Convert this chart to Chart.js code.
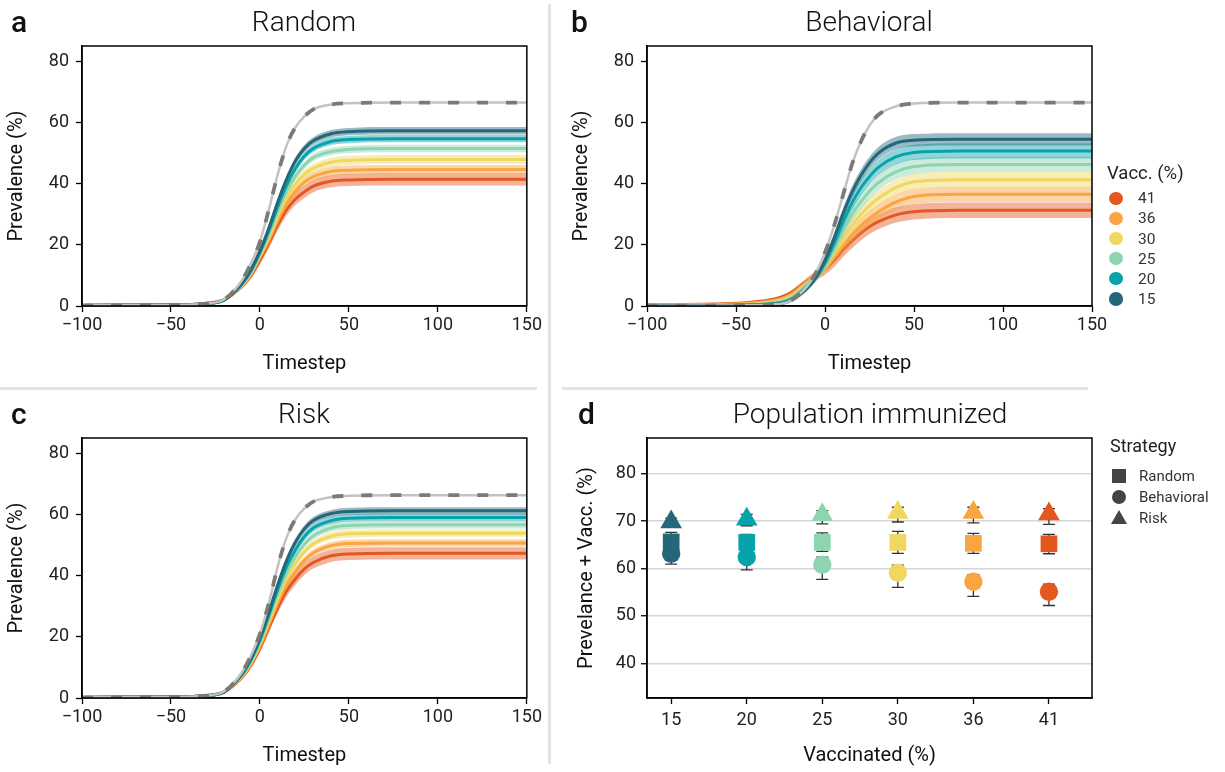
<!DOCTYPE html>
<html>
<head>
<meta charset="utf-8">
<script src="https://cdn.jsdelivr.net/npm/chart.js@4.4.0/dist/chart.umd.min.js"></script>
<style>
  body { margin: 0; background: #fff; font-family: Roboto, "Noto Sans", sans-serif; }
  #wrap { position: relative; width: 1225px; height: 772px; overflow: hidden; }
  canvas { position: absolute; }
  .txt { position: absolute; white-space: nowrap; color: #111; }
  .letter { font-size: 30px; line-height: 30px; font-weight: 500; }
  .title { font-size: 28px; line-height: 28px; font-weight: 300; transform: translateX(-50%); }
  .sep { position: absolute; background: #e3e3e3; }
  .leg { position: absolute; color: #333; white-space: nowrap; }
  .dot { position: absolute; border-radius: 50%; }
</style>
</head>
<body>
<div id="wrap">
  <div class="sep" style="left:548px; top:4px; width:3px; height:760px;"></div>
  <div class="sep" style="left:0; top:387px; width:537px; height:3px;"></div>
  <div class="sep" style="left:562px; top:387px; width:526px; height:3px;"></div>

  <canvas id="chartA" width="545" height="380" style="left:0; top:0;"></canvas>
  <canvas id="chartB" width="660" height="380" style="left:565px; top:0;"></canvas>
  <canvas id="chartC" width="545" height="380" style="left:0; top:392px;"></canvas>
  <canvas id="chartD" width="660" height="380" style="left:565px; top:392px;"></canvas>

  <div class="txt letter" style="left:11px; top:7px;">a</div>
  <div class="txt title" style="left:304px; top:8px;">Random</div>
  <div class="txt letter" style="left:571px; top:7px;">b</div>
  <div class="txt title" style="left:869px; top:8px;">Behavioral</div>
  <div class="txt letter" style="left:11px; top:399px;">c</div>
  <div class="txt title" style="left:304px; top:400px;">Risk</div>
  <div class="txt letter" style="left:578px; top:399px;">d</div>
  <div class="txt title" style="left:870px; top:400px;">Population immunized</div>

  <div id="legendB"></div>
  <div id="legendD"></div>
</div>

<script>
// time axis shared by the three prevalence panels
const timesteps = [-100, -50, -30, -20, -10, -5, 0, 5, 10, 15, 20, 25, 30, 40, 50, 75, 100, 150];
const timeTicks = [-100, -50, 0, 50, 100, 150];
const prevTicks = [0, 20, 40, 60, 80];

// vaccination levels, top to bottom as in the legend
const vaccLevels = ['41', '36', '30', '25', '20', '15'];
const vaccColors = ['#e4571e', '#f9a541', '#efd760', '#8dd5b0', '#08a2ab', '#24667a'];

// a - Random
const noVaccRandom = [0.2, 0.3, 0.8, 2.2, 8.5, 14, 21, 31.5, 43, 52.5, 58.5, 62, 64.3, 65.9, 66.3, 66.5, 66.5, 66.5];
const random41 = [0.2, 0.3, 0.9, 2.1, 6.5, 10, 15, 20.5, 26.5, 31.5, 35, 37.3, 39.2, 40.8, 41.2, 41.4, 41.4, 41.4];
const random36 = [0.2, 0.3, 0.9, 2.1, 6.8, 10.5, 16, 21.5, 28, 33.5, 37.5, 40.5, 42.3, 44, 44.4, 44.6, 44.6, 44.6];
const random30 = [0.2, 0.3, 0.8, 2.0, 6.8, 10.7, 16.5, 22.5, 29.5, 35.5, 40, 43, 45, 47, 47.6, 47.9, 47.9, 47.9];
const random25 = [0.2, 0.3, 0.8, 2.0, 7, 11, 17, 23.5, 31, 37.5, 42.5, 46, 48.5, 50.5, 51.2, 51.5, 51.5, 51.5];
const random20 = [0.2, 0.3, 0.8, 2.0, 7.3, 11.5, 17.5, 24.5, 32.5, 39.5, 45, 49, 51.5, 53.8, 54.4, 54.7, 54.7, 54.7];
const random15 = [0.2, 0.3, 0.8, 2.0, 7.5, 12, 18, 25.5, 34, 41.5, 47.5, 51.5, 54, 56.3, 57, 57.3, 57.3, 57.3];

// b - Behavioral
const noVaccBehav = [0.1, 0.2, 0.5, 1.5, 6.5, 11, 17.5, 26, 36, 46, 53.5, 59, 62.5, 65.3, 66.2, 66.5, 66.5, 66.5];
const behav41 = [0.4, 0.9, 2.1, 4.1, 8.2, 10, 12, 14.8, 18.2, 21.2, 23.8, 26, 27.6, 29.8, 30.8, 31.3, 31.3, 31.3];
const behav36 = [0.3, 0.7, 1.7, 3.5, 7.8, 9.9, 12.5, 16, 19.8, 23.2, 26.2, 28.7, 30.8, 34, 35.8, 36.5, 36.5, 36.5];
const behav30 = [0.2, 0.5, 1.3, 2.9, 7.3, 9.8, 13, 17.3, 22, 26.3, 29.8, 32.8, 35.2, 38.8, 40.6, 41.3, 41.3, 41.3];
const behav25 = [0.2, 0.4, 1.0, 2.4, 6.8, 9.7, 13.5, 18.8, 24.5, 29.8, 34, 37.5, 40.3, 43.9, 45.6, 46.3, 46.3, 46.3];
const behav20 = [0.1, 0.3, 0.7, 1.9, 6.3, 9.6, 14.3, 20.5, 27.3, 33.5, 38.5, 42.3, 45.3, 48.8, 50.2, 50.7, 50.7, 50.7];
const behav15 = [0.1, 0.2, 0.5, 1.5, 5.8, 9.5, 15, 22, 30, 37, 42.5, 46.8, 50, 53.3, 54.2, 54.5, 54.5, 54.5];

// c - Risk
const noVaccRisk = [0.2, 0.3, 0.8, 2.2, 8.5, 14, 21, 31, 43, 52.5, 58.5, 62, 64.2, 65.7, 66.1, 66.3, 66.3, 66.3];
const risk41 = [0.2, 0.3, 0.8, 2.0, 6.8, 10.8, 16.3, 23, 29.5, 35, 39, 42.2, 44.3, 46.5, 47.1, 47.3, 47.3, 47.3];
const risk36 = [0.2, 0.3, 0.8, 2.0, 7, 11.2, 17, 24, 31, 37, 41.5, 45, 47.4, 49.8, 50.5, 50.7, 50.7, 50.7];
const risk30 = [0.2, 0.3, 0.8, 2.0, 7.3, 11.6, 17.7, 25, 32.5, 39, 44, 47.8, 50.4, 52.9, 53.7, 53.9, 53.9, 53.9];
const risk25 = [0.2, 0.3, 0.8, 2.0, 7.5, 12, 18.3, 26, 34, 41, 46.3, 50.3, 53, 55.6, 56.4, 56.6, 56.6, 56.6];
const risk20 = [0.2, 0.3, 0.8, 2.0, 7.8, 12.5, 19, 27, 35.5, 43, 48.5, 52.8, 55.6, 58, 58.8, 59, 59, 59];
const risk15 = [0.2, 0.3, 0.8, 2.0, 8, 13, 19.5, 28, 37, 45, 51, 55.3, 58, 60.3, 61, 61.2, 61.2, 61.2];

// half-width of the shaded bands
const sd12 = [0, 0, 0.1, 0.2, 0.5, 0.7, 0.9, 1.0, 1.1, 1.15, 1.2, 1.2, 1.2, 1.2, 1.2, 1.2, 1.2, 1.2];
const sd15 = [0, 0, 0.1, 0.2, 0.6, 0.9, 1.1, 1.3, 1.4, 1.45, 1.5, 1.5, 1.5, 1.5, 1.5, 1.5, 1.5, 1.5];
const sd20 = [0, 0, 0.1, 0.3, 0.8, 1.1, 1.4, 1.7, 1.8, 1.9, 2, 2, 2, 2, 2, 2, 2, 2];
const sd25 = [0, 0.1, 0.3, 0.5, 1.1, 1.5, 1.8, 2.1, 2.3, 2.4, 2.5, 2.5, 2.5, 2.5, 2.5, 2.5, 2.5, 2.5];

// d - Population immunized
const vaccCats = ['15', '20', '25', '30', '36', '41'];
const immTicks = [40, 50, 60, 70, 80];
const immRandom = [65.6, 65.5, 65.5, 65.5, 65.3, 65.2];
const immRandomLo = [63.6, 63.9, 63.6, 63.2, 63.2, 63.1];
const immRandomHi = [67.6, 67.2, 67.5, 67.8, 67.4, 67.2];
const immBehav = [63.1, 62.4, 60.8, 59.1, 57.2, 55.1];
const immBehavLo = [60.9, 59.7, 57.7, 56.0, 54.1, 52.2];
const immBehavHi = [65.3, 64.9, 62.4, 60.7, 58.7, 56.7];
const immRisk = [69.8, 70.4, 71.3, 71.8, 71.8, 71.5];
const immRiskLo = [69.0, 69.0, 69.4, 69.8, 69.6, 69.3];
const immRiskHi = [70.6, 71.4, 72.2, 72.9, 72.9, 72.6];

const FONT = 'Roboto, "Noto Sans", sans-serif';
Chart.defaults.font.family = FONT;
Chart.defaults.color = '#222';
Chart.defaults.animation = false;

function alpha(hex, a) {
    const n = parseInt(hex.slice(1), 16);
    return `rgba(${n >> 16}, ${(n >> 8) & 255}, ${n & 255}, ${a})`;
}

const minus = v => v < 0 ? '\u2212' + Math.abs(v) : String(v);

// black box around the plot area
const framePlugin = {
    id: 'frame',
    afterDatasetsDraw(chart) {
        const {ctx, chartArea: a} = chart;
        ctx.save();
        ctx.strokeStyle = '#000';
        ctx.lineWidth = 1.5;
        ctx.strokeRect(a.left, a.top, a.right - a.left, a.bottom - a.top);
        ctx.restore();
    }
};

function axisBase(extra) {
    return Object.assign({
        ticks: {font: {size: 18}, color: '#222', autoSkip: false, maxRotation: 0},
        grid: {drawOnChartArea: false, drawTicks: true, tickLength: 6, tickColor: '#000', tickWidth: 1.3},
        border: {display: true, color: '#000', width: 1.5}
    }, extra);
}

function curvePanel(id, noVacc, series, bands, padRight) {
    const pts = arr => arr.map((v, i) => ({x: timesteps[i], y: v}));
    const datasets = [
        {data: pts(noVacc), borderColor: '#7b7b73', borderWidth: 3.8, borderDash: [11, 18]},
        {data: pts(noVacc), borderColor: '#c3c3c3', borderWidth: 2.5}
    ];
    // 15% drawn on top, 41% at the bottom
    for (let k = vaccLevels.length - 1; k >= 0; k--) {
        const mean = series[k], sd = bands[k], col = vaccColors[k];
        datasets.push({data: pts(mean), borderColor: col, borderWidth: 3});
        datasets.push({data: pts(mean.map((v, i) => v + sd[i])), borderWidth: 0,
            backgroundColor: alpha(col, 0.45), fill: '+1'});
        datasets.push({data: pts(mean.map((v, i) => Math.max(0, v - sd[i]))), borderWidth: 0, fill: false});
    }

    new Chart(document.getElementById(id), {
        type: 'line',
        data: {datasets},
        options: {
            responsive: false,
            events: [],
            elements: {point: {radius: 0}, line: {cubicInterpolationMode: 'monotone'}},
            layout: {padding: {top: 46, right: padRight, left: 0, bottom: 0}},
            plugins: {legend: {display: false}, tooltip: {enabled: false}},
            scales: {
                x: axisBase({
                    type: 'linear', min: -100, max: 150,
                    afterBuildTicks: s => { s.ticks = timeTicks.map(v => ({value: v})); },
                    ticks: {font: {size: 18}, color: '#222', padding: 3, callback: minus, maxRotation: 0},
                    title: {display: true, text: 'Timestep', font: {size: 20}, color: '#111', padding: {top: 0, bottom: 4}},
                    afterFit: s => { s.height = 74; }
                }),
                y: axisBase({
                    min: 0, max: 85,
                    afterBuildTicks: s => { s.ticks = prevTicks.map(v => ({value: v})); },
                    ticks: {font: {size: 18}, color: '#222', padding: 7},
                    title: {display: true, text: 'Prevalence (%)', font: {size: 20}, color: '#111', padding: {top: 5, bottom: 0}},
                    afterFit: s => { s.width = 82; }
                })
            }
        },
        plugins: [framePlugin]
    });
}

curvePanel('chartA', noVaccRandom, [random41, random36, random30, random25, random20, random15],
    [sd20, sd15, sd15, sd12, sd12, sd12], 17);
curvePanel('chartB', noVaccBehav, [behav41, behav36, behav30, behav25, behav20, behav15],
    [sd25, sd25, sd25, sd25, sd25, sd20], 133);
curvePanel('chartC', noVaccRisk, [risk41, risk36, risk30, risk25, risk20, risk15],
    [sd20, sd12, sd12, sd12, sd12, sd12], 17);

// d: colours follow the category order 15 ... 41
const catColors = vaccCats.map(c => vaccColors[vaccLevels.indexOf(c)]);
const errorSets = [[immRandomLo, immRandomHi], [immBehavLo, immBehavHi], [immRiskLo, immRiskHi]];

// error bars sit under the markers
const errorBarPlugin = {
    id: 'errorBars',
    beforeDatasetsDraw(chart) {
        const {ctx, scales: {x, y}} = chart;
        ctx.save();
        ctx.strokeStyle = '#333';
        ctx.lineWidth = 1.3;
        errorSets.forEach(([lo, hi]) => {
            lo.forEach((l, i) => {
                const px = x.getPixelForValue(i);
                const y1 = y.getPixelForValue(l), y2 = y.getPixelForValue(hi[i]);
                ctx.beginPath();
                ctx.moveTo(px, y1); ctx.lineTo(px, y2);
                ctx.moveTo(px - 6, y1); ctx.lineTo(px + 6, y1);
                ctx.moveTo(px - 6, y2); ctx.lineTo(px + 6, y2);
                ctx.stroke();
            });
        });
        ctx.restore();
    }
};

const xy = arr => arr.map((v, i) => ({x: i, y: v}));

new Chart(document.getElementById('chartD'), {
    type: 'scatter',
    data: {
        datasets: [
            {label: 'Random', data: xy(immRandom), pointStyle: 'rect', pointRadius: 11.8,
                pointBackgroundColor: catColors, pointBorderWidth: 0},
            {label: 'Behavioral', data: xy(immBehav), pointStyle: 'circle', pointRadius: 9.2,
                pointBackgroundColor: catColors, pointBorderWidth: 0},
            {label: 'Risk', data: xy(immRisk), pointStyle: 'triangle', pointRadius: 12.5,
                pointBackgroundColor: catColors, pointBorderWidth: 0}
        ]
    },
    options: {
        responsive: false,
        events: [],
        layout: {padding: {top: 46, right: 133, left: 0, bottom: 0}},
        plugins: {legend: {display: false}, tooltip: {enabled: false}},
        scales: {
            x: axisBase({
                type: 'linear', min: -0.32, max: 5.57,
                afterBuildTicks: s => { s.ticks = vaccCats.map((c, i) => ({value: i})); },
                ticks: {font: {size: 18}, color: '#222', padding: 6, callback: v => vaccCats[v]},
                title: {display: true, text: 'Vaccinated (%)', font: {size: 20}, color: '#111', padding: {top: 0, bottom: 4}},
                afterFit: s => { s.height = 74; }
            }),
            y: axisBase({
                min: 32.7, max: 87.5,
                afterBuildTicks: s => { s.ticks = immTicks.map(v => ({value: v})); },
                ticks: {font: {size: 18}, color: '#222', padding: 5},
                grid: {drawOnChartArea: true, color: '#d6d6d6', lineWidth: 1.5, drawTicks: true,
                    tickLength: 6, tickColor: '#000', tickWidth: 1.3},
                title: {display: true, text: 'Prevelance + Vacc. (%)', font: {size: 20}, color: '#111', padding: {top: 10, bottom: 0}},
                afterFit: s => { s.width = 82; }
            })
        }
    },
    plugins: [errorBarPlugin, framePlugin]
});

// legends
const legB = document.getElementById('legendB');
let html = '<div class="leg" style="left:1107px; top:162px; font-size:18.5px; color:#222;">Vacc. (%)</div>';
vaccLevels.forEach((lvl, k) => {
    const cy = 198.3 + k * 20.1;
    html += `<div class="dot" style="left:${1116 - 6.8}px; top:${cy - 6.8}px; width:13.6px; height:13.6px; background:${vaccColors[k]};"></div>`;
    html += `<div class="leg" style="left:1138px; top:${cy - 9}px; font-size:15.5px; line-height:18px;">${lvl}</div>`;
});
legB.innerHTML = html;

const strategies = ['Random', 'Behavioral', 'Risk'];
const legD = document.getElementById('legendD');
let htmlD = '<div class="leg" style="left:1110px; top:435px; font-size:18px; color:#222;">Strategy</div>';
const shapes = [
    'left:1112px; top:469px; width:14px; height:14px; background:#444;',
    'left:1112px; top:490px; width:14px; height:14px; border-radius:50%; background:#444;',
    'left:1111px; top:510px; width:0; height:0; border-left:8px solid transparent; border-right:8px solid transparent; border-bottom:14px solid #444;'
];
strategies.forEach((s, k) => {
    const cy = 476 + k * 21;
    htmlD += `<div class="leg" style="${shapes[k]}"></div>`;
    htmlD += `<div class="leg" style="left:1139px; top:${cy - 9}px; font-size:15px; line-height:18px;">${s}</div>`;
});
legD.innerHTML = htmlD;
</script>
</body>
</html>
